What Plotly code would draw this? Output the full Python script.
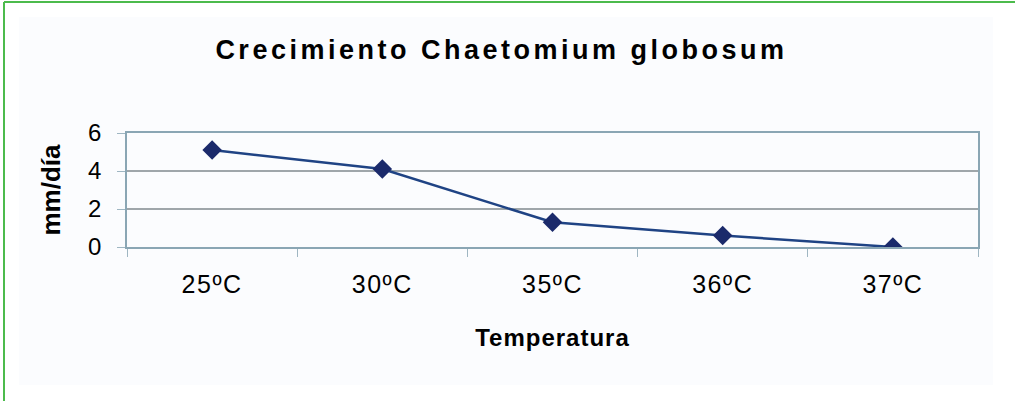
import plotly.graph_objects as go

categories = ["25ºC", "30ºC", "35ºC", "36ºC", "37ºC"]
growth_mm_per_day = [5.1, 4.1, 1.3, 0.6, 0.0]
y_ticks = [0, 2, 4, 6]

title_text = "Crecimiento Chaetomium globosum"
x_title = "Temperatura"
y_title = "mm/día"

W, H = 1015, 401
L, R, T, B = 127, 978, 133, 247  # plot area in pixels

def px_x(p):
    return (p - L) / (R - L)

def px_y(p):
    return (B - p) / (B - T)

fig = go.Figure()
fig.add_trace(go.Scatter(
    x=categories, y=growth_mm_per_day, mode="lines+markers",
    line=dict(color="#1f4384", width=2.5),
    marker=dict(symbol="diamond", size=15, color="#1b2a6b"),
    showlegend=False, hoverinfo="x+y",
))

FONT = "Liberation Sans, Arial, sans-serif"

fig.update_layout(
    width=W, height=H,
    margin=dict(l=L, r=W - R, t=T, b=H - B, pad=0),
    paper_bgcolor="white",
    plot_bgcolor="#c9c9c9",
    font=dict(family=FONT, color="black"),
    title=dict(text=title_text, xref="container", yref="container",
               x=0.494, y=1 - 50 / H, xanchor="center", yanchor="middle",
               font=dict(size=27, family=FONT, weight="bold", color="#000")),
    xaxis=dict(
        type="category", range=[-0.5, 4.5], tickson="boundaries",
        ticks="outside", ticklen=8, tickcolor="#9fb6c2", tickwidth=1,
        showline=True, linecolor="#8aa6b4", linewidth=1.5, mirror=True,
        showgrid=False, tickfont=dict(size=25, color="#000"),
        ticklabelstandoff=14,
        title=dict(text=x_title, standoff=32,
                   font=dict(size=24, weight="bold", color="#000")),
    ),
    yaxis=dict(
        range=[0, 6], tickvals=y_ticks, ticks="outside", ticklen=8,
        tickcolor="#9fb6c2", showline=True, linecolor="#8aa6b4",
        linewidth=1.5, mirror=True, showgrid=True, gridcolor="#9fa6aa",
        gridwidth=1.5, zeroline=False, tickfont=dict(size=24, color="#000"),
        ticklabelstandoff=11,
        title=dict(text=y_title, standoff=20,
                   font=dict(size=26, weight="bold", color="#000")),
    ),
    shapes=[
        dict(type="rect", xref="paper", yref="paper", layer="below",
             x0=px_x(19), x1=px_x(993), y0=px_y(385), y1=px_y(17),
             fillcolor="#fbfcfe", line=dict(width=0)),
        dict(type="line", xref="paper", yref="paper",
             x0=px_x(4), x1=px_x(1015), y0=px_y(2), y1=px_y(2),
             line=dict(color="#4cbb4c", width=2)),
        dict(type="line", xref="paper", yref="paper",
             x0=px_x(4), x1=px_x(4), y0=px_y(401), y1=px_y(2),
             line=dict(color="#4cbb4c", width=2)),
    ],
)

post_script = """
document.body.style.margin = '0';
document.body.style.padding = '0';
var gd = document.getElementById('{plot_id}');
function spacing(){
  gd.querySelectorAll('.gtitle').forEach(function(e){e.style.letterSpacing='3.5px';});
  gd.querySelectorAll('.xtitle').forEach(function(e){e.style.letterSpacing='1px';});
  gd.querySelectorAll('.xtick text').forEach(function(e){e.style.letterSpacing='1.5px';});
}
spacing();
gd.on('plotly_afterplot', spacing);
"""

fig.write_html("out.html", post_script=post_script,
               config={"displayModeBar": False})
